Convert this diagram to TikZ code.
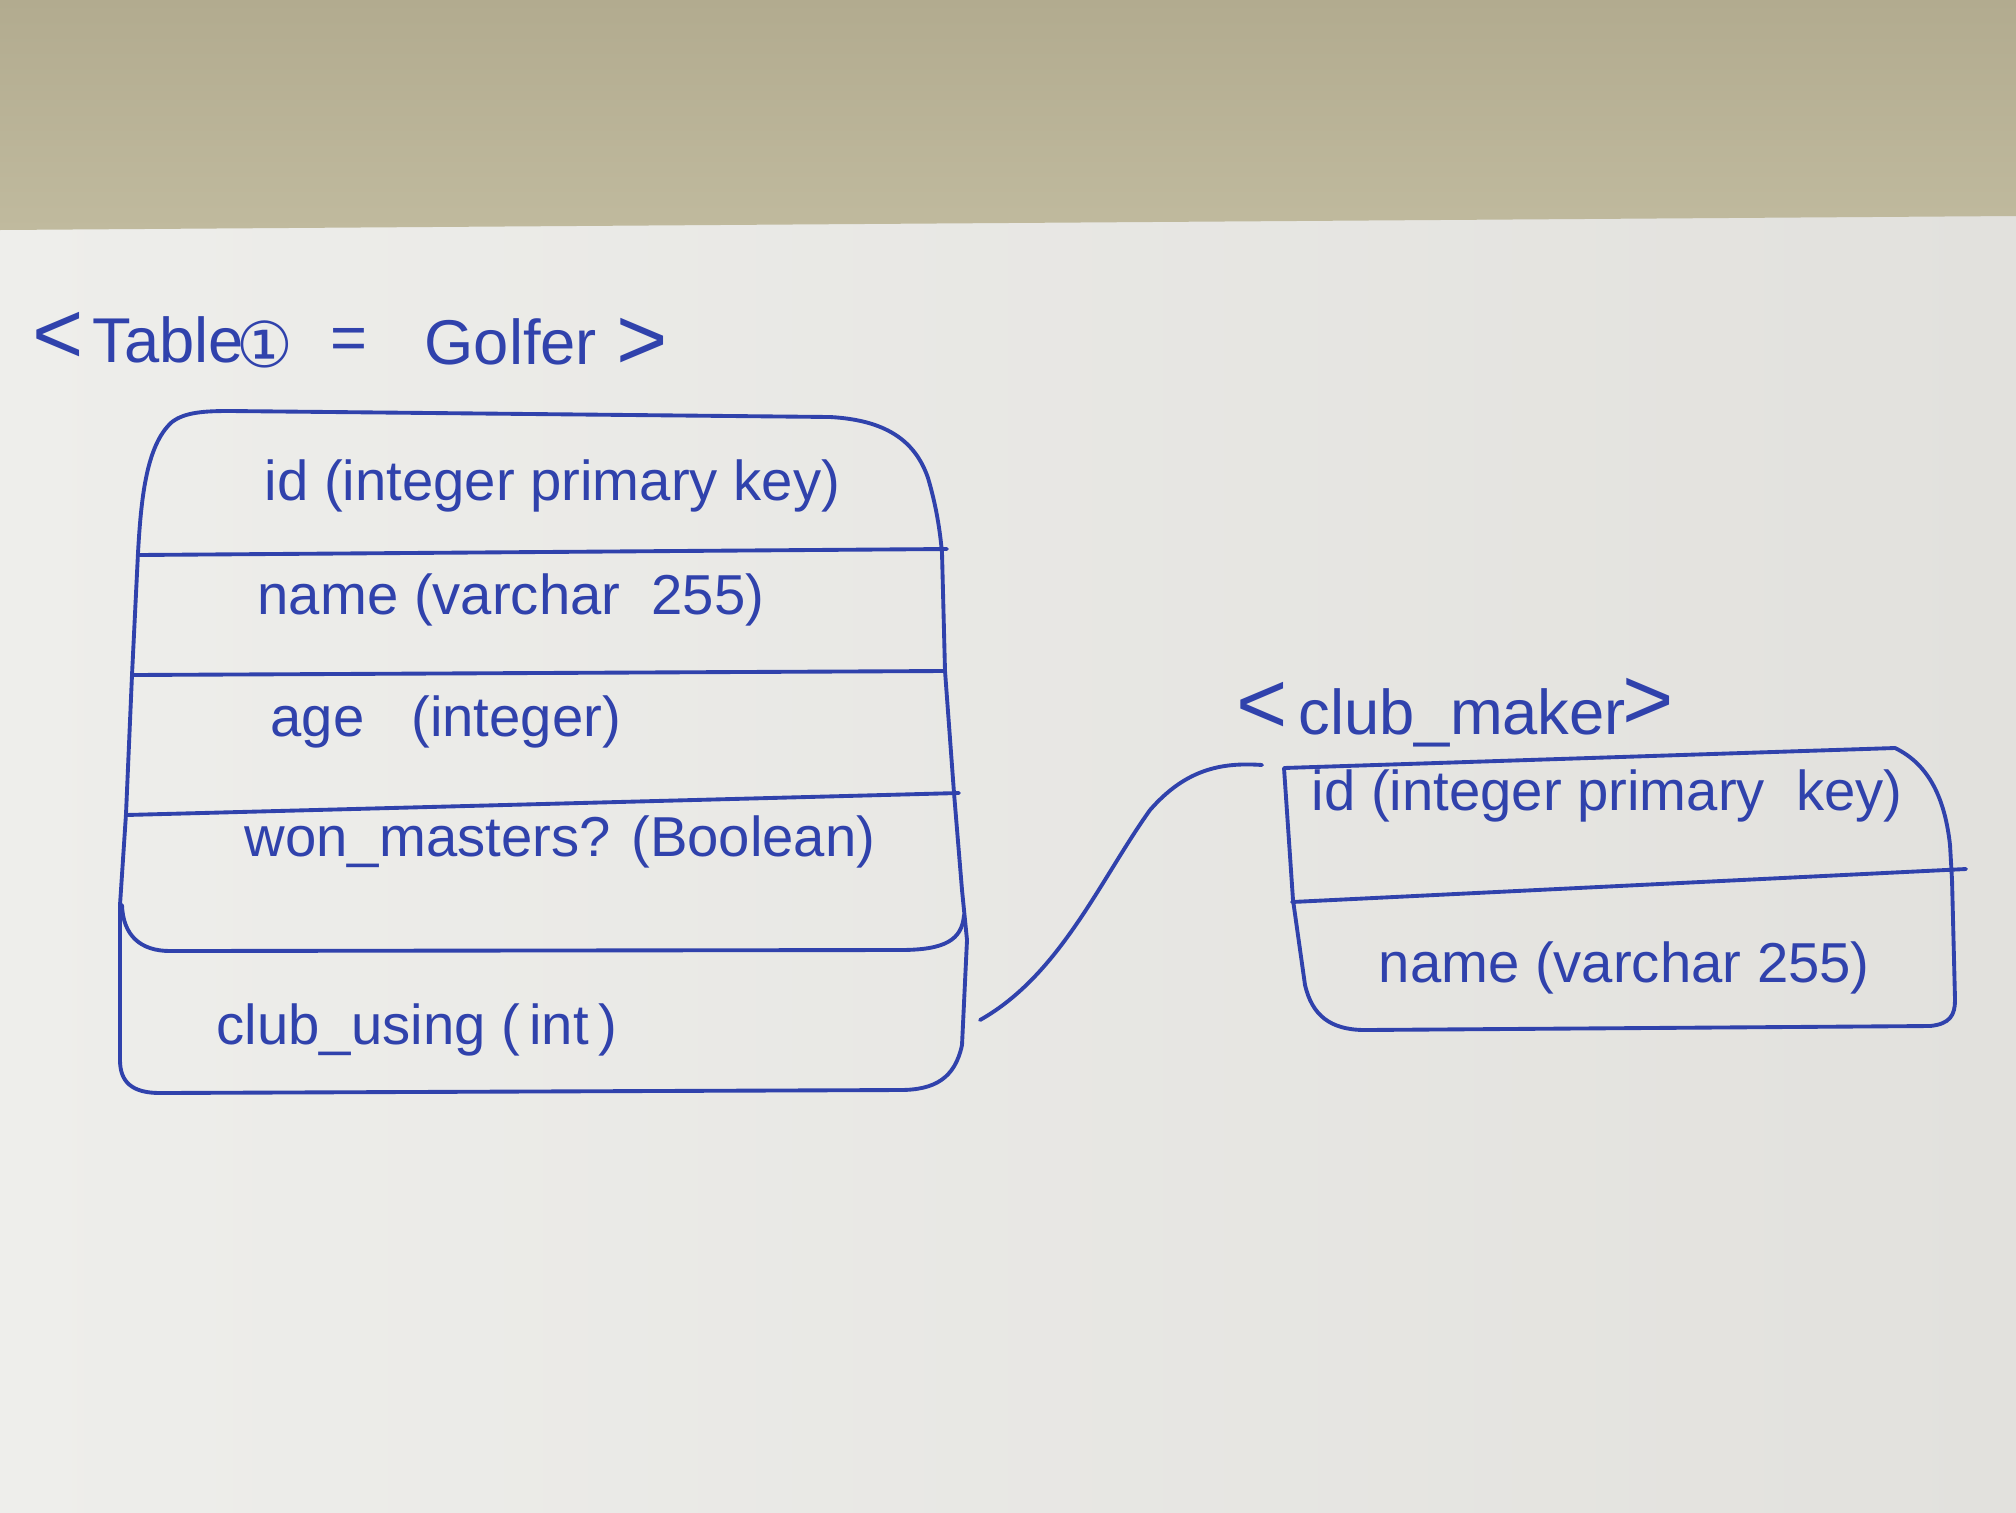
\documentclass[tikz,border=0pt]{standalone}
\usepackage{fontspec}
\setmainfont{Liberation Sans}
\newfontfamily\symfont{DejaVu Sans}
\definecolor{ink}{RGB}{48,66,172}
\definecolor{paper}{RGB}{238,238,235}
\definecolor{paperdark}{RGB}{226,225,221}
\definecolor{desk}{RGB}{192,186,158}
\definecolor{deskdark}{RGB}{178,171,143}
\begin{document}
\begin{tikzpicture}[x=0.01cm,y=-0.01cm,
  pen/.style={draw=ink, line width=1.1pt, line cap=round, line join=round},
  field/.style={font=\fontsize{16}{19}\selectfont, text=ink, anchor=west, inner sep=0pt},
  ttl/.style={font=\fontsize{18}{21}\selectfont, text=ink, anchor=west, inner sep=0pt},
  brk/.style={font=\fontsize{25}{28}\selectfont, text=ink, anchor=west, inner sep=0pt}]
\useasboundingbox (0,0) rectangle (2016,1512);
% paper and desk
\shade[left color=paper, right color=paperdark] (0,0) rectangle (2016,1512);
\shade[top color=deskdark, bottom color=desk] (0,0) -- (2016,0) -- (2016,216) -- (0,230) -- cycle;

% ---------- Golfer title ----------
\node[brk] (glt) at (32,338) {<};
\node[ttl] (gtab) at (92,340) {Table};
\node[ttl] (gone) at (236,344) {\symfont ①};
\node[ttl] (geq) at (330,344) {=};
\node[ttl] (ggol) at (424,342) {Golfer};
\node[brk] (ggt) at (616,344) {>};

% ---------- Golfer table outline ----------
\draw[pen] (138,553) .. controls (141,500) and (146,445) .. (172,422)
  .. controls (185,412) and (205,411) .. (230,411) -- (830,417)
  .. controls (885,420) and (915,440) .. (928,478)
  .. controls (936,505) and (940,530) .. (942,553)
  -- (945,671) -- (954,793) -- (962,890) -- (967,940) -- (962,1045)
  .. controls (955,1078) and (935,1090) .. (900,1090)
  -- (160,1093) .. controls (132,1093) and (120,1082) .. (120,1060)
  -- (120,905) -- (126,814) -- (132,675) -- (138,553);
% bottom of the upper section
\draw[pen] (122,905) .. controls (123,935) and (140,951) .. (170,951)
  -- (900,950) .. controls (945,950) and (962,940) .. (964,915);
% row dividers
\draw[pen] (138,555) -- (947,549);
\draw[pen] (132,675) -- (944,671);
\draw[pen] (126,815) -- (959,793);

% ---------- Golfer fields ----------
\node[field] (gid)   at (264,486) {id (integer primary key)};
\node[field] (gname) at (257,600) {name (varchar\ \ 255)};
\node[field] (gage)  at (270,722) {age\ \ \ (integer)};
\node[field] (gwon)  at (244,842) {won\_masters? (Boolean)};
\node[field] (gclub) at (216,1030) {club\_using (\,int\,)};

% ---------- club_maker title ----------
\node[brk] (clt) at (1236,708) {<};
\node[ttl] (cname) at (1298,718) {club\_maker};
\node[brk] (cgt) at (1622,704) {>};

% ---------- club_maker outline ----------
\draw[pen] (1284,768) -- (1293,900) -- (1305,985)
  .. controls (1312,1015) and (1330,1030) .. (1365,1030)
  -- (1930,1026) .. controls (1950,1024) and (1955,1015) .. (1955,1000)
  -- (1952,880) -- (1950,845)
  .. controls (1945,800) and (1930,765) .. (1895,748)
  -- (1284,768);
\draw[pen] (1292,902) -- (1966,869);

% ---------- club_maker fields ----------
\node[field] (cid)   at (1311,796) {id (integer primary\ \ key)};
\node[field] (cnm)   at (1378,968) {name (varchar 255)};

% ---------- connector ----------
\coordinate (gconn) at (980,1020);
\coordinate (cconn) at (1262,765);
\draw[pen] (gconn) .. controls (1060,975) and (1100,880) .. (1150,810)
  .. controls (1185,770) and (1220,762) .. (cconn);
\end{tikzpicture}
\end{document}
